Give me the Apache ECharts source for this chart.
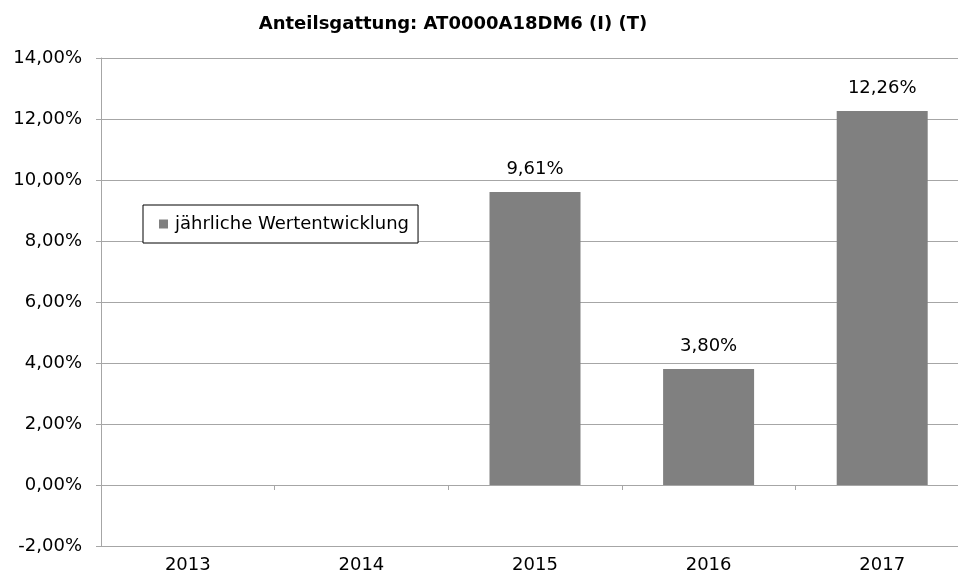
<!DOCTYPE html>
<html>
<head>
<meta charset="utf-8">
<script src="https://cdn.jsdelivr.net/npm/echarts@6/dist/echarts.min.js"></script>
<style>html,body{margin:0;padding:0;background:#fff;overflow:hidden}#c{width:958px;height:581px}</style>
</head>
<body>
<div id="c"></div>
<script>
const categories = ['2013', '2014', '2015', '2016', '2017'];
const values = [null, null, 9.61, 3.80, 12.26];
const seriesName = 'jährliche Wertentwicklung';
const titleText = 'Anteilsgattung: AT0000A18DM6 (I) (T)';
const yMin = -2, yMax = 14, yStep = 2;

const fmt = v => v.toFixed(2).replace('.', ',') + '%';
const font = '"DejaVu Sans", sans-serif';
const chart = echarts.init(document.getElementById('c'));
chart.setOption({
  animation: false,
  title: {
    text: titleText, left: 448, top: 10, textAlign: 'center',
    textStyle: { fontFamily: font, fontSize: 18, fontWeight: 'bold', color: '#000' }
  },
  legend: {
    data: [seriesName], left: 143, top: 205,
    orient: 'vertical',
    icon: 'rect', itemWidth: 9, itemHeight: 9, itemGap: 0,
    padding: [10, 9, 10, 16],
    borderColor: '#000', borderWidth: 1, backgroundColor: '#fff',
    textStyle: { fontFamily: font, fontSize: 18, color: '#000', padding: [0, 0, 0, 2] }
  },
  grid: { left: 101, width: 868, top: 58, bottom: 35, containLabel: false, outerBoundsMode: 'none' },
  xAxis: [{
    type: 'category', data: categories,
    axisLine: { onZero: true, lineStyle: { color: '#a6a6a6', width: 1 } },
    axisTick: { show: true, length: 5, lineStyle: { color: '#a6a6a6' } },
    axisLabel: { show: false }
  }, {
    type: 'category', data: categories, position: 'bottom',
    axisLine: { show: false, onZero: false }, axisTick: { show: false },
    axisLabel: { fontFamily: font, fontSize: 18, color: '#000', margin: 10 }
  }],
  yAxis: {
    type: 'value', min: yMin, max: yMax, interval: yStep,
    axisLine: { show: true, lineStyle: { color: '#a6a6a6' } },
    axisTick: { show: true, length: 5, lineStyle: { color: '#a6a6a6' } },
    splitLine: { lineStyle: { color: '#a6a6a6', width: 1 } },
    axisLabel: { fontFamily: font, fontSize: 18, color: '#000', margin: 19, formatter: v => fmt(v) }
  },
  series: [{
    name: seriesName, type: 'bar', data: values, barWidth: 91,
    itemStyle: { color: '#808080' },
    label: {
      show: true, position: 'top', distance: 12,
      formatter: p => fmt(p.value),
      fontFamily: font, fontSize: 18, color: '#000',
      backgroundColor: '#fff', padding: [2, 6]
    }
  }]
});
</script>
</body>
</html>
